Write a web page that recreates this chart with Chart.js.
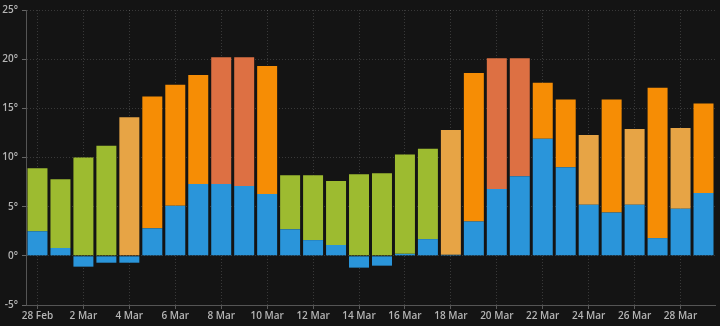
<!DOCTYPE html>
<html lang="en">
<head>
  <meta charset="UTF-8">
  <title>Temperatures</title>
  <script src="https://cdn.jsdelivr.net/npm/chart.js"></script>
  <style>
    html, body { margin: 0; padding: 0; background: #141414; }
    #wrap { width: 720px; height: 326px; }
  </style>
</head>
<body>
  <div id="wrap"><canvas id="tempChart"></canvas></div>
  <script>
    // days, one bar each
    var days = ['28 Feb', '1 Mar', '2 Mar', '3 Mar', '4 Mar', '5 Mar', '6 Mar', '7 Mar', '8 Mar', '9 Mar',
      '10 Mar', '11 Mar', '12 Mar', '13 Mar', '14 Mar', '15 Mar', '16 Mar', '17 Mar', '18 Mar', '19 Mar',
      '20 Mar', '21 Mar', '22 Mar', '23 Mar', '24 Mar', '25 Mar', '26 Mar', '27 Mar', '28 Mar', '29 Mar'];

    var minTemp = [2.5, 0.8, -1.1, -0.7, -0.7, 2.8, 5.1, 7.3, 7.3, 7.1,
      6.3, 2.7, 1.6, 1.1, -1.2, -1.0, 0.2, 1.7, 0.1, 3.5,
      6.8, 8.1, 11.9, 9.0, 5.2, 4.4, 5.2, 1.8, 4.8, 6.4];

    var maxTemp = [8.9, 7.8, 10.0, 11.2, 14.1, 16.2, 17.4, 18.4, 20.2, 20.2,
      19.3, 8.2, 8.2, 7.6, 8.3, 8.4, 10.3, 10.9, 12.8, 18.6,
      20.1, 20.1, 17.6, 15.9, 12.3, 15.9, 12.9, 17.1, 13.0, 15.5];

    var yTicks = [-5, 0, 5, 10, 15, 20, 25];

    function maxColor(t) {
      if (t >= 20) return '#dd7043';
      if (t >= 15) return '#f68d05';
      if (t >= 12) return '#e7a445';
      return '#9dbb30';
    }

    // upper part of the bar starts at the min (or at 0 when the min is below zero)
    var upper = maxTemp.map(function (m, i) { return +(m - Math.max(minTemp[i], 0)).toFixed(1); });

    var gridColor = 'rgba(255,255,255,0.16)';
    var tickFont = { family: 'Open Sans', size: 10, weight: '600' };

    var ctx = document.getElementById('tempChart').getContext('2d');
    var tempChart = new Chart(ctx, {
      type: 'bar',
      data: {
        labels: days,
        datasets: [
          { label: 'Min', data: minTemp, backgroundColor: '#2a95da', categoryPercentage: 1, barPercentage: 0.87 },
          { label: 'Max', data: upper, backgroundColor: maxTemp.map(maxColor), categoryPercentage: 1, barPercentage: 0.87 }
        ]
      },
      options: {
        responsive: true,
        maintainAspectRatio: false,
        animation: false,
        layout: { padding: { top: 6, right: 5, left: 0, bottom: 0 } },
        plugins: { legend: { display: false }, tooltip: { enabled: false } },
        scales: {
          x: {
            stacked: true,
            grid: { offset: false, color: gridColor, tickLength: 4, drawTicks: true, tickColor: 'rgba(255,255,255,0.3)' },
            border: { color: '#555', dash: [1, 2] },
            ticks: {
              autoSkip: false, maxRotation: 0, padding: 1, color: '#b5b5b5', font: tickFont,
              callback: function (v, i) { return i % 2 === 0 ? days[i] : null; }
            },
            afterFit: function (s) { s.height = 21; }
          },
          y: {
            stacked: true,
            min: -5,
            max: 25,
            afterBuildTicks: function (s) { s.ticks = yTicks.map(function (v) { return { value: v }; }); },
            grid: { color: gridColor, tickLength: 4, tickColor: '#666' },
            border: { color: '#555', dash: [1, 2] },
            ticks: { padding: 4, color: '#b5b5b5', font: tickFont, callback: function (v) { return v + '°'; } },
            afterFit: function (s) { s.width = 26; }
          }
        }
      }
    });
  </script>
</body>
</html>
